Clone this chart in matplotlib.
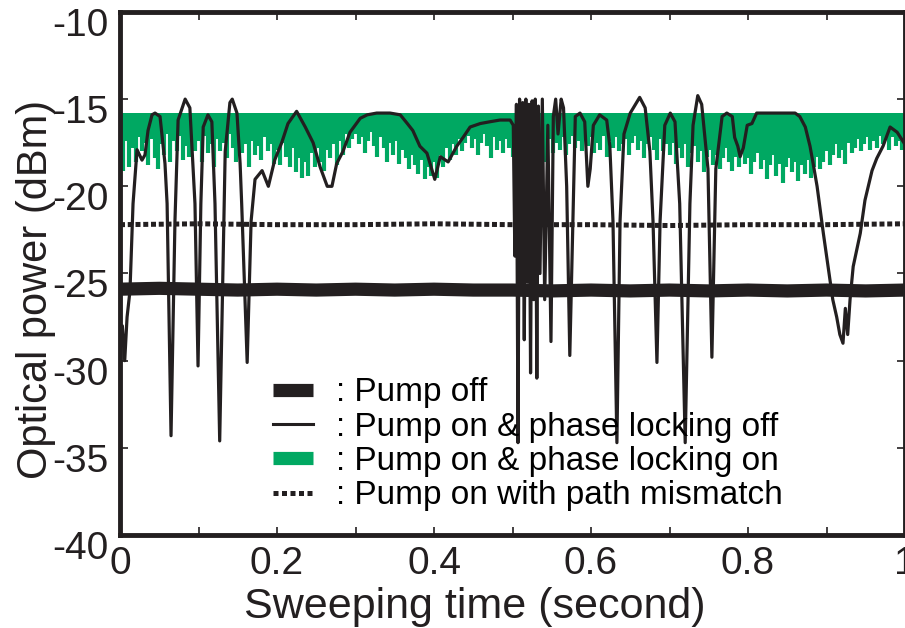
import matplotlib
matplotlib.use("Agg")
import matplotlib.pyplot as plt
import matplotlib.transforms as mtransforms
from matplotlib.lines import Line2D
import numpy as np

plt.rcParams['font.family'] = ['Liberation Sans', 'DejaVu Sans']
plt.rcParams['axes.unicode_minus'] = False

# Pump off (thick band)
off_x = [0.0, 0.05, 0.1, 0.15, 0.2, 0.25, 0.3, 0.35, 0.4, 0.45, 0.5,
         0.55, 0.6, 0.65, 0.7, 0.75, 0.8, 0.85, 0.9, 0.95, 1.0]
off_y = [-25.9, -25.85, -25.9, -25.95, -25.9, -25.95, -25.9, -25.95, -25.9, -25.95, -25.95,
         -26.0, -25.95, -26.0, -25.95, -26.0, -25.95, -26.0, -25.95, -26.0, -25.95]

# Pump on with path mismatch (dotted)
mis_x = [0.0, 0.1, 0.2, 0.3, 0.4, 0.5, 0.6, 0.7, 0.8, 0.9, 1.0]
mis_y = [-22.2, -22.15, -22.2, -22.2, -22.15, -22.2, -22.2, -22.25, -22.2, -22.2, -22.15]

# Pump on & phase locking off (thin black)
pon_x = [0.0, 0.003, 0.006, 0.009, 0.0127, 0.0166, 0.0217, 0.028, 0.0318, 0.0357, 0.0408,
         0.0446, 0.051, 0.0573, 0.06, 0.065, 0.07, 0.074, 0.083, 0.089, 0.0955, 0.0994,
         0.103, 0.106, 0.112, 0.117, 0.121, 0.127, 0.134, 0.14, 0.143, 0.149, 0.153, 0.155,
         0.162, 0.167, 0.172, 0.181, 0.189, 0.197, 0.206, 0.214, 0.225, 0.236, 0.246, 0.255,
         0.264, 0.27, 0.276, 0.284, 0.293, 0.306, 0.315, 0.327, 0.344, 0.357, 0.366, 0.373,
         0.382, 0.391, 0.401, 0.408, 0.418, 0.429, 0.437, 0.446, 0.459, 0.471, 0.484, 0.497,
         0.501, 0.503, 0.505, 0.507, 0.509, 0.511, 0.513, 0.515, 0.517, 0.519, 0.521, 0.523,
         0.525, 0.527, 0.529, 0.531, 0.533, 0.535, 0.538, 0.541, 0.545, 0.549, 0.552,
         0.555, 0.558, 0.562, 0.565, 0.569, 0.573, 0.58, 0.586, 0.592, 0.596,
         0.599, 0.603, 0.611, 0.62, 0.624, 0.628, 0.633, 0.637, 0.642, 0.65, 0.662, 0.669,
         0.675, 0.679, 0.684, 0.688, 0.694, 0.701, 0.707, 0.713, 0.72, 0.726, 0.73, 0.736,
         0.741, 0.749, 0.754, 0.759, 0.767, 0.773, 0.78, 0.783, 0.787, 0.79, 0.794, 0.799,
         0.805, 0.811, 0.819, 0.837, 0.854, 0.86, 0.866, 0.873, 0.879, 0.883, 0.888, 0.896,
         0.902, 0.908, 0.913, 0.917, 0.921, 0.924, 0.927, 0.93, 0.934, 0.943, 0.949, 0.958,
         0.964, 0.972, 0.981, 0.99, 1.0]
pon_y = [-29.5, -28.0, -30.0, -27.5, -26.0, -21.0, -17.9, -18.5, -18.2, -16.8, -15.9,
         -15.8, -16.0, -18.7, -21.0, -34.3, -22.0, -16.2, -15.0, -15.5, -21.0, -30.3,
         -21.0, -16.6, -15.9, -16.3, -21.0, -34.6, -18.0, -15.2, -15.0, -15.8, -18.7, -21.0,
         -30.1, -22.0, -19.6, -19.1, -20.0, -18.5, -17.5, -16.4, -15.7, -16.6, -17.5, -18.9,
         -20.0, -20.0, -18.7, -18.0, -16.9, -16.1, -15.9, -15.8, -15.8, -15.9, -16.4, -16.8,
         -17.7, -18.1, -19.6, -18.3, -18.6, -17.7, -17.2, -16.6, -16.4, -16.3, -16.2, -16.2,
         -16.5, -24.0, -15.3, -34.7, -15.0, -26.0, -15.2, -28.8, -15.0, -25.5, -15.3, -30.7,
         -15.1, -26.5, -15.0, -31.0, -15.4, -25.0, -15.0, -26.5, -16.5, -28.9, -16.0,
         -15.0, -17.0, -15.0, -15.5, -20.0, -29.7, -16.0, -15.8, -16.3, -20.0,
         -19.0, -16.5, -15.9, -16.2, -17.7, -22.0, -34.7, -22.0, -17.0, -15.8, -14.9, -15.5,
         -18.0, -22.0, -30.1, -22.0, -16.5, -15.8, -16.3, -21.0, -34.7, -21.0, -16.5, -14.8,
         -15.3, -19.0, -29.8, -19.0, -16.0, -15.8, -16.0, -17.2, -17.7, -18.3, -17.8, -16.5,
         -16.4, -15.8, -15.8, -15.8, -15.8, -15.8, -16.0, -16.6, -17.7, -18.7, -20.0, -22.7,
         -24.6, -26.5, -27.5, -28.5, -29.0, -27.0, -28.5, -26.5, -24.6, -22.7, -20.8, -19.1,
         -18.4, -17.7, -16.6, -16.9, -17.6]

# Pump on & phase locking on (green): lowest point of each sweep sample, step 0.004
green_top = -15.8
green_low = [
    -18.2, -19.1, -17.4, -18.9, -17.8, -18.6, -17.2, -18.0, -17.5, -18.8, -17.3, -18.4, -19.0,
    -17.6, -18.2, -17.0, -18.6, -17.4, -18.0, -17.1, -18.5, -17.7, -18.3, -17.2, -18.0,
    -17.4, -18.6, -17.1, -18.1, -17.6, -18.9, -17.3, -18.0, -17.5, -18.4, -17.0, -17.8, -18.6,
    -17.3, -18.1, -17.6, -18.9, -17.4, -18.2, -17.7, -18.5, -17.2, -18.0, -17.6, -18.7,
    -17.9, -18.8, -17.5, -18.3, -18.9, -17.8, -19.2, -18.4, -19.5, -18.6, -19.4, -18.1, -18.9,
    -17.8, -18.6, -19.1, -17.9, -18.4, -17.6, -18.8, -17.4, -18.2, -17.0, -17.8, -17.3,
    -17.0, -17.6, -17.2, -18.1, -17.4, -16.9, -17.7, -18.3, -17.2, -17.8, -18.6, -17.5, -18.2,
    -17.4, -18.7, -17.9, -18.4, -19.0, -18.2, -18.8, -19.3, -18.5, -19.6, -18.9, -19.4,
    -18.6, -19.5, -18.2, -18.9, -17.8, -18.5, -17.6, -18.2, -17.3, -18.0, -17.5, -17.1, -17.8,
    -17.3, -18.2, -17.5, -17.0, -17.7, -18.4, -17.2, -17.9, -17.4, -18.1, -17.3, -17.8,
    -18.3, -17.6, -18.5, -17.9, -18.2, -17.4, -18.0, -17.5, -18.3, -17.2, -18.6, -17.8, -17.3,
    -18.1, -17.5, -17.9, -17.2, -18.2, -17.6, -17.1, -17.8, -17.4, -18.0, -17.3, -17.7,
    -17.2, -18.1, -17.5, -17.9, -17.1, -18.3, -17.4, -17.8, -17.2, -18.0, -17.6, -17.3, -18.2,
    -17.5, -17.1, -17.9, -17.4, -18.4, -17.6, -17.2, -17.9, -18.5, -17.3, -18.0, -17.6,
    -18.2, -17.5, -18.7, -17.8, -18.4, -17.6, -18.9, -18.1, -17.7, -18.6, -18.0, -19.2, -18.3,
    -17.9, -18.8, -18.2, -19.0, -18.4, -17.8, -18.6, -19.1, -18.3, -18.9, -18.0, -18.7,
    -18.4, -19.3, -18.6, -18.1, -19.0, -18.5, -19.6, -18.8, -18.2, -19.4, -18.7, -19.8, -18.9,
    -18.4, -19.2, -18.6, -19.7, -18.8, -19.3, -18.5, -19.5, -18.9, -18.3, -19.0, -18.6,
    -18.0, -18.8, -18.2, -17.6, -18.4, -17.9, -18.7, -17.5, -18.1, -17.8, -17.3, -18.0, -17.6,
    -17.2, -17.9, -17.4, -17.8, -17.1, -17.6, -17.3, -17.9, -17.2, -17.7, -17.4, -17.9, -17.5]
green_x = np.linspace(0, 1, len(green_low))

green = '#00a862'
ink = '#231f20'

fig = plt.figure(figsize=(9.05, 6.28), dpi=100)
ax = fig.add_axes([0.1326, 0.148, 0.8674, 0.833])

ax.vlines(green_x, green_top, green_low, color=green, lw=3.0, zorder=2)
ax.plot(mis_x, mis_y, color=ink, lw=3.6, ls=(0, (1.0, 0.55)), zorder=3)
ax.plot(off_x, off_y, color=ink, lw=9.5, zorder=3, solid_capstyle='butt')
ax.plot(pon_x, pon_y, color=ink, lw=2.3, zorder=4)

ax.set_xlim(0, 1)
ax.set_ylim(-40, -10)
ax.set_xticks([0, 0.2, 0.4, 0.6, 0.8, 1.0])
ax.set_xticklabels(['0', '0.2', '0.4', '0.6', '0.8', '1'])
ax.set_xticks(np.arange(0.1, 1.0, 0.2), minor=True)
ax.set_yticks([-40, -35, -30, -25, -20, -15, -10])
ax.tick_params(which='both', direction='in', length=6, width=1.2, top=True, right=True,
               labelsize=28, pad=8, colors=ink)
for s in ax.spines.values():
    s.set_linewidth(3.5)
    s.set_color(ink)

# y tick labels sit a little below their ticks in the reference
shift = mtransforms.ScaledTranslation(0, -10 / 100, fig.dpi_scale_trans)
for lab in ax.get_yticklabels():
    lab.set_transform(lab.get_transform() + shift)

ax.set_xlabel('Sweeping time (second)', fontsize=31, color=ink)
ax.xaxis.set_label_coords(0.452, -0.1)
ax.set_ylabel('Optical power (dBm)', fontsize=30, color=ink)
ax.yaxis.set_label_coords(-0.082, 0.47)

handles = [Line2D([], [], color=ink, lw=9.5, solid_capstyle='butt'),
           Line2D([], [], color=ink, lw=2.2),
           Line2D([], [], color=green, lw=9.5, solid_capstyle='butt'),
           Line2D([], [], color=ink, lw=3.6, ls=(0, (1.0, 0.7)))]
labels = [': Pump off', ': Pump on & phase locking off',
          ': Pump on & phase locking on', ': Pump on with path mismatch']
ax.legend(handles, labels, loc='lower left', bbox_to_anchor=(0.178, 0.02), frameon=False,
          fontsize=24, handlelength=1.2, handletextpad=0.7, labelspacing=0.1,
          borderaxespad=0)

fig.savefig('out.png', dpi=100)
